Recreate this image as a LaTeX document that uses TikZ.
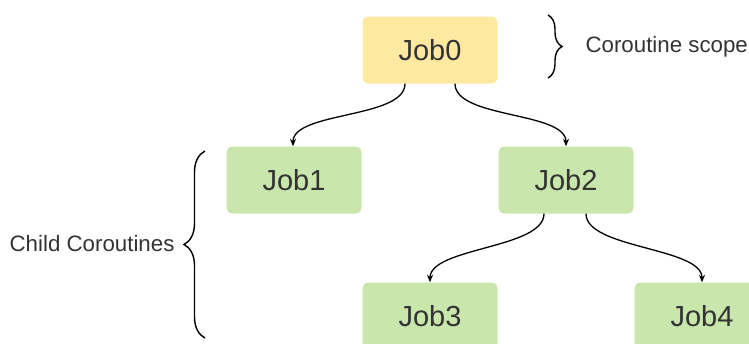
\documentclass[tikz,border=0pt]{standalone}
\usepackage{fontspec}
\setmainfont{Liberation Sans}
\usetikzlibrary{arrows.meta, decorations.pathreplacing}
\definecolor{jobyellow}{HTML}{FFE9A1}
\definecolor{jobgreen}{HTML}{C9E7AC}
\definecolor{txtgray}{HTML}{333333}

\begin{document}
\begin{tikzpicture}[x=1pt, y=-1pt,
    job/.style={rounded corners=6pt, minimum width=135pt, minimum height=67pt,
        text=txtgray, font=\fontsize{29}{34}\selectfont},
    link/.style={line width=1.3pt, -{Stealth[length=7.5pt,width=6pt]}},
    curly/.style={line width=1.4pt, decorate, decoration={brace, amplitude=#1}},
    lbl/.style={text=txtgray, font=\fontsize{22.3}{27}\selectfont}]
    \clip (0,0) rectangle (749,343);
    % jobs
    \node[job, fill=jobyellow] (job0) at (430,50) {Job0};
    \node[job, fill=jobgreen] (job1) at (294,180) {Job1};
    \node[job, fill=jobgreen] (job2) at (566,180) {Job2};
    \node[job, fill=jobgreen] (job3) at (430,316) {Job3};
    \node[job, fill=jobgreen] (job4) at (702,316) {Job4};
    % links
    \draw[link] ([xshift=-25]job0.south) .. controls +(0,35) and +(0,-35) .. ([xshift=-1]job1.north);
    \draw[link] ([xshift=25]job0.south) .. controls +(0,35) and +(0,-35) .. ([xshift=0]job2.north);
    \draw[link] ([xshift=-22]job2.south) .. controls +(0,35) and +(0,-35) .. ([xshift=0]job3.north);
    \draw[link] ([xshift=20]job2.south) .. controls +(0,35) and +(0,-35) .. ([xshift=0]job4.north);
    % braces
    \coordinate (scopetop) at (548,15);
    \coordinate (scopebot) at (548,78);
    \draw[curly=14pt] (scopetop) -- (scopebot);
    \node[lbl, anchor=west] (scopelbl) at (582,47) {Coroutine scope};
    \coordinate (childtop) at (205,151);
    \coordinate (childbot) at (205,338);
    \draw[curly=21pt] (childbot) -- (childtop);
    \node[lbl, anchor=east] (childlbl) at (178,244) {Child Coroutines};
\end{tikzpicture}
\end{document}
